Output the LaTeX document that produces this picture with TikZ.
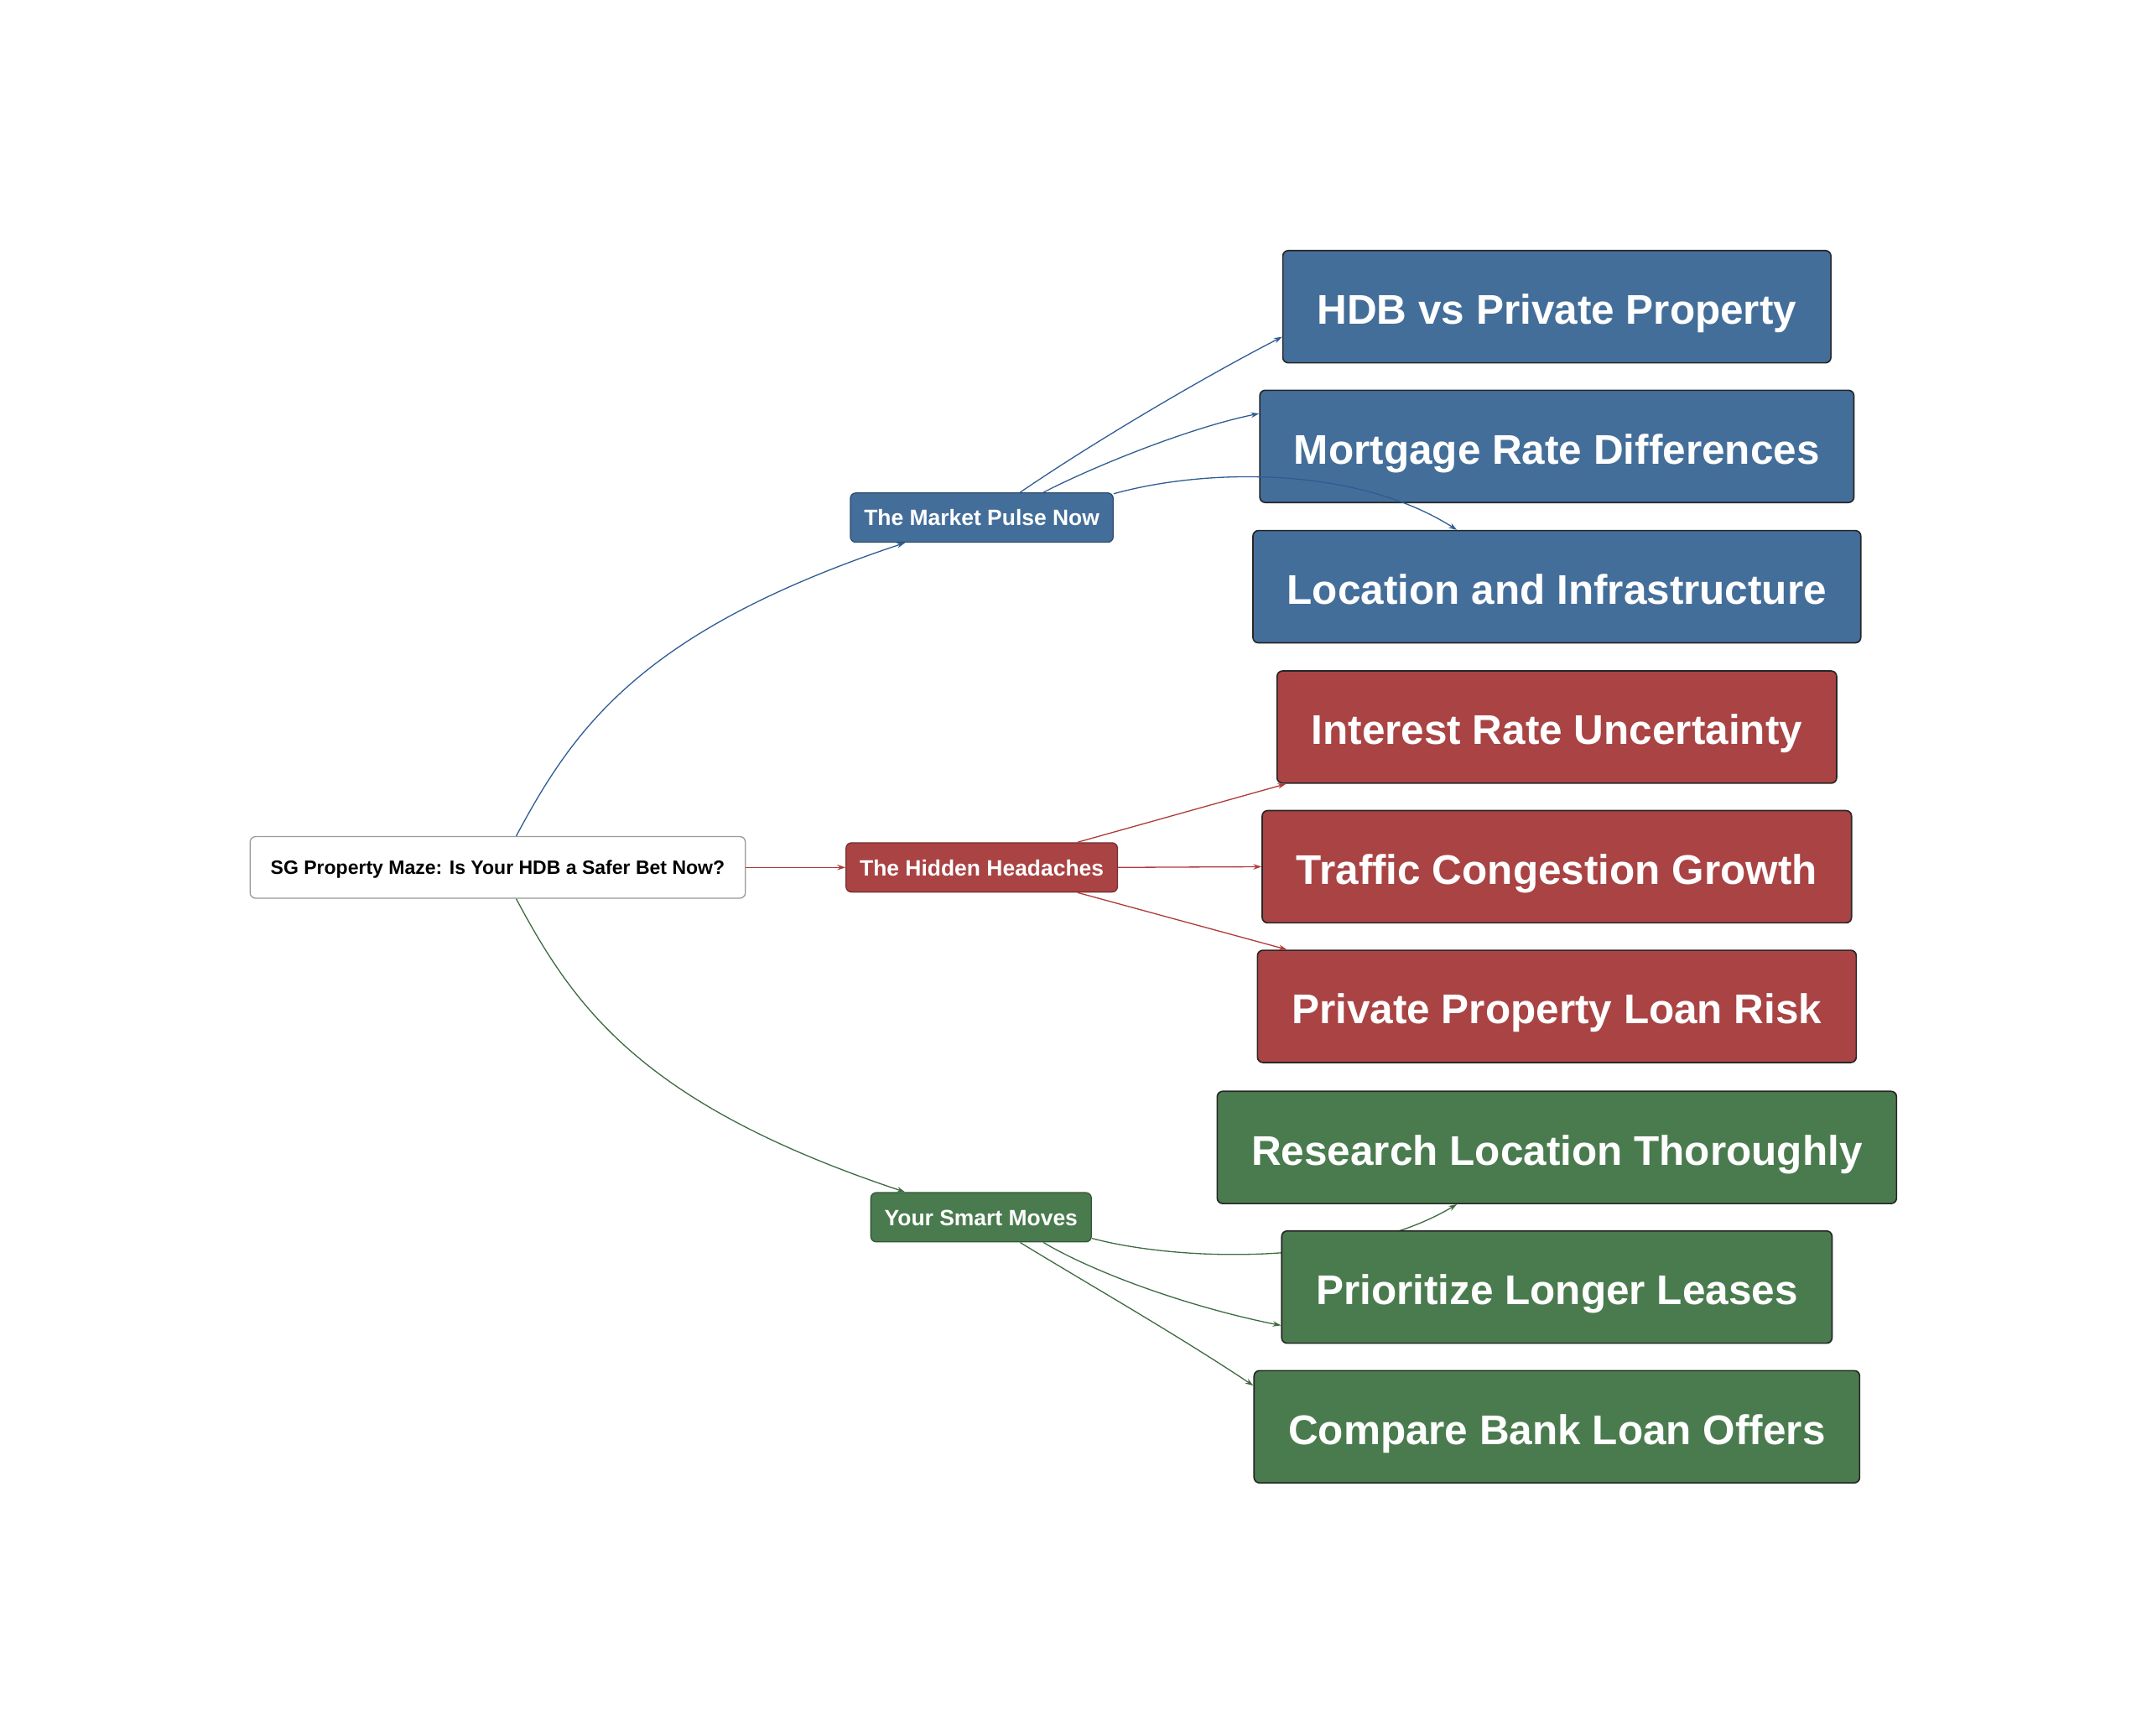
\documentclass[tikz,border=0pt]{standalone}
\usepackage{fontspec}
\setmainfont{Liberation Sans}
\usetikzlibrary{arrows.meta,calc}
\definecolor{cblue}{HTML}{446E9A}
\definecolor{cred}{HTML}{A94344}
\definecolor{cgreen}{HTML}{4A7B4E}
\definecolor{eblue}{HTML}{2F5C94}
\definecolor{ered}{HTML}{B03A3A}
\definecolor{egreen}{HTML}{3E6B42}
\pgfdeclarelayer{bg}
\pgfsetlayers{bg,main}
\begin{document}
\begin{tikzpicture}[x=1pt,y=-1pt,
  leafbox/.style={draw=black!85, line width=1pt, rounded corners=4pt, text=white,
    font=\fontsize{30.3}{36}\selectfont\bfseries, inner xsep=25pt, inner ysep=0pt,
    text height=27pt, text depth=1.5pt, minimum height=82pt},
  midbox/.style={line width=0.8pt, rounded corners=4pt, text=white,
    font=\fontsize{16.2}{19}\selectfont\bfseries, inner xsep=10pt, inner ysep=0pt,
    text height=12pt, text depth=0pt, minimum height=36pt},
  rootbox/.style={draw=black!40, fill=white, line width=0.8pt, rounded corners=4pt,
    font=\fontsize{14.1}{17}\selectfont\bfseries, inner xsep=15pt, inner ysep=0pt,
    text height=10.5pt, text depth=0pt, minimum height=45pt},
  conn/.style={line width=0.8pt, -{Stealth[length=6pt,width=4pt]}}
]
\useasboundingbox (0,0) rectangle (1568,1267.3);

\node[rootbox] (root) at (363.5,633.5) {SG Property Maze: Is Your HDB a Safer Bet Now?};

\node[midbox, fill=cblue, draw=cblue!70!black] (mkt) at (717,378) {The Market Pulse Now};
\node[midbox, fill=cred, draw=cred!70!black] (hid) at (717,633.5) {The Hidden Headaches};
\node[midbox, fill=cgreen, draw=cgreen!70!black] (sm) at (716.5,889) {Your Smart Moves};

\node[leafbox, fill=cblue] (l1) at (1137,224) {HDB vs Private Property};
\node[leafbox, fill=cblue] (l2) at (1137,326) {Mortgage Rate Differences};
\node[leafbox, fill=cblue] (l3) at (1137,428.5) {Location and Infrastructure};
\node[leafbox, fill=cred] (l4) at (1137,531) {Interest Rate Uncertainty};
\node[leafbox, fill=cred] (l5) at (1137,633) {Traffic Congestion Growth};
\node[leafbox, fill=cred] (l6) at (1137,735) {Private Property Loan Risk};
\node[leafbox, fill=cgreen] (l7) at (1137,838) {Research Location Thoroughly};
\node[leafbox, fill=cgreen] (l8) at (1137,940) {Prioritize Longer Leases};
\node[leafbox, fill=cgreen] (l9) at (1137,1042) {Compare Bank Loan Offers};

% root to middle
\draw[conn, eblue] ($(root.north)+(13.5,0)$) .. controls (420,530) and (470,460) .. ($(mkt.south)+(-56,0)$);
\draw[conn, ered] (root.east) -- (hid.west);
\draw[conn, egreen] ($(root.south)+(13.5,0)$) .. controls (420,737) and (470,807) .. ($(sm.north)+(-55.5,0)$);

% market
\draw[conn, eblue] ($(mkt.north)+(28,0)$) .. controls (800,322) and (880,275) .. ($(l1.west)+(0,22)$);
\draw[conn, eblue] ($(mkt.north)+(45,0)$) .. controls (800,340) and (870,312) .. ($(l2.west)+(0,-24)$);
\draw[conn, eblue] ($(mkt.north east)+(0,1)$) .. controls (880,342) and (990,340) .. ($(l3.north)+(-73,0)$);

% hidden
\draw[conn, ered] ($(hid.north)+(70,0)$) -- ($(l4.south west)+(7,0)$);
\draw[conn, ered] (hid.east) -- (l5.west);
\draw[conn, ered] ($(hid.south)+(70,0)$) -- ($(l6.north west)+(22,0)$);

% smart
\begin{pgfonlayer}{bg}
\draw[conn, egreen] ($(sm.south east)+(0,-3)$) .. controls (864,922) and (990,924) .. ($(l7.south)+(-73,0)$);
\end{pgfonlayer}
\draw[conn, egreen] ($(sm.south)+(45.5,0)$) .. controls (800,930) and (870,955) .. ($(l8.west)+(0,28)$);
\draw[conn, egreen] ($(sm.south)+(28.5,0)$) .. controls (790,935) and (860,975) .. ($(l9.west)+(0,-30)$);
\end{tikzpicture}
\end{document}
